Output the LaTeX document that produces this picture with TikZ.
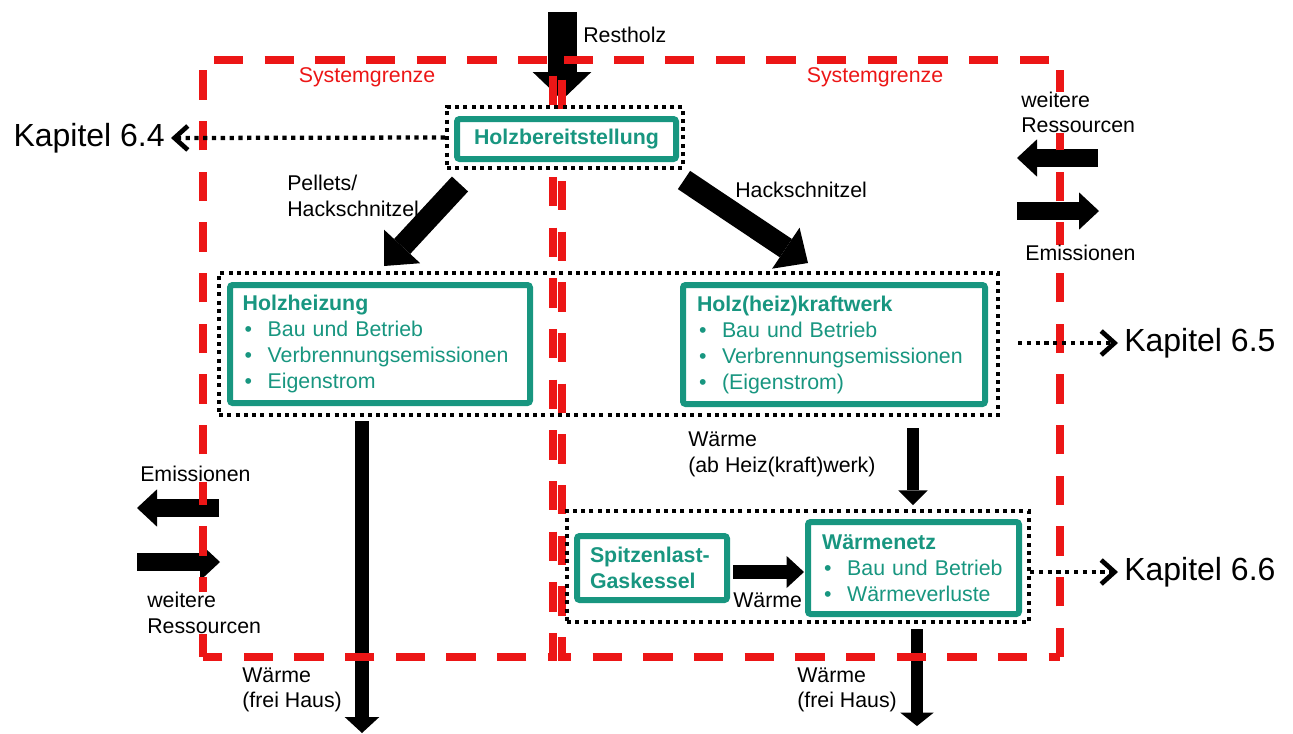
\documentclass[tikz,border=0pt]{standalone}
\usepackage{fontspec}
\setmainfont{Liberation Sans}
\usetikzlibrary{arrows.meta}
\definecolor{tealc}{RGB}{24,150,128}
\definecolor{sysred}{RGB}{236,22,22}
\newcommand{\blt}{\makebox[18.75pt][l]{\hspace{1.5pt}\textbullet}}
\begin{document}
\begin{tikzpicture}[x=0.75pt,y=-0.75pt,
  lbl/.style={inner sep=0pt, anchor=west, align=left, fill=white, font=\fontsize{16}{19.2}\selectfont},
  kap/.style={inner sep=0pt, font=\fontsize{24}{28}\selectfont},
  sysg/.style={inner sep=0pt, text=sysred, font=\fontsize{16}{19}\selectfont},
  tbox/.style={draw=tealc, line width=4.5pt, fill=white, rounded corners=2pt, text=tealc, font=\fontsize{16}{19.5}\selectfont, inner sep=0pt},
  dbox/.style={draw=black, line width=3pt, dash pattern=on 3pt off 3.2pt, inner sep=0pt},
  boundary/.style={draw=sysred, line width=5.5pt, dash pattern=on 22pt off 16pt},
  darr/.style={draw=black, line width=3.2pt, dash pattern=on 3.2pt off 3.4pt, -{Straight Barb[length=10pt,width=18pt,line width=3.5pt]}},
  fat/.style n args={3}{draw=black, line width=#1, -{Triangle[width=#2,length=#3,line width=0pt]}}
]
\useasboundingbox (0,0) rectangle (1293,733);

% free ends of connectors
\coordinate (rs0) at (562,12);   \coordinate (rs1) at (562,100);
\coordinate (pa0) at (460,184);  \coordinate (pa1) at (384,266);
\coordinate (ha0) at (684,180);  \coordinate (ha1) at (808,263);
\coordinate (rr0) at (1098,158); \coordinate (rr1) at (1017,158);
\coordinate (re0) at (1017,211); \coordinate (re1) at (1099,211);
\coordinate (le0) at (219,508);  \coordinate (le1) at (137,508);
\coordinate (lr0) at (137,562);  \coordinate (lr1) at (220,562);
\coordinate (hd0) at (362,421);  \coordinate (hd1) at (362,733);
\coordinate (wa0) at (913,428);  \coordinate (wa1) at (913,505);
\coordinate (sw0) at (733,572);  \coordinate (sw1) at (804,572);
\coordinate (wd0) at (917,629);  \coordinate (wd1) at (917,726);
\coordinate (k4) at (171,138);
\coordinate (k5a) at (1018,343); \coordinate (k5b) at (1118,343);
\coordinate (k6a) at (1030,572); \coordinate (k6b) at (1118,572);

% arrows crossing the system boundary
\draw[fat={21.75pt}{44pt}{21pt}] (rs0) -- (rs1);
\draw[fat={13.5pt}{28pt}{15pt}] (rr0) -- (rr1);
\draw[fat={13.5pt}{28pt}{15pt}] (re0) -- (re1);
\draw[fat={13.5pt}{28pt}{15pt}] (le0) -- (le1);
\draw[fat={13.5pt}{28pt}{15pt}] (lr0) -- (lr1);
\draw[fat={11pt}{26pt}{12pt}] (hd0) -- (hd1);
\draw[fat={8.5pt}{25pt}{10pt}] (wd0) -- (wd1);

% system boundaries
\draw[boundary] (203,657) -- (203,60) -- (553,60) -- (553,657) -- cycle;
\draw[boundary] (1060,657) -- (1060,60) -- (562,60) -- (562,657) -- cycle;
\node[sysg] (sg1) at (367,77) {Systemgrenze};
\node[sysg] (sg2) at (875,77) {Systemgrenze};

% dotted groups
\node[dbox, minimum width=177pt, minimum height=45.75pt] (d1) at (565,137.5) {};
\node[dbox, minimum width=584.25pt, minimum height=106.5pt] (d2) at (608.5,344) {};
\node[dbox, minimum width=346.5pt, minimum height=83.25pt] (d3) at (798,566.5) {};

% labels
\node[lbl] (lrest) at (583,35) {Restholz};
\node[lbl] (lpel) at (287,196) {Pellets/\\Hackschnitzel};
\node[lbl] (lhack) at (735,190) {Hackschnitzel};
\node[lbl] (lwr1) at (1021,112.5) {weitere\\Ressourcen};
\node[lbl] (lem1) at (1025,253) {Emissionen};
\node[lbl] (lem2) at (140,474) {Emissionen};
\node[lbl] (lwr2) at (147,613) {weitere\\Ressourcen};
\node[lbl] (lfh1) at (242,690) {Wärme\\(frei Haus)};
\node[lbl] (lab) at (688,454.5) {Wärme\\(ab Heiz(kraft)werk)};
\node[lbl] (lw) at (733,600) {Wärme};
\node[lbl] (lfh2) at (797,690) {Wärme\\(frei Haus)};

% teal boxes
\node[tbox, minimum width=164.25pt, minimum height=30pt] (hb) at (566.5,139) {\textbf{Holzbereitstellung}};
\node[tbox, minimum width=225pt, minimum height=88.5pt, text width=206pt, align=left] (hh) at (380,344)
  {\textbf{Holzheizung}\\\blt Bau und Betrieb\\\blt Verbrennungsemissionen\\\blt Eigenstrom};
\node[tbox, minimum width=226.5pt, minimum height=89.25pt, text width=205.5pt, align=left] (hk) at (834,344.5)
  {\textbf{Holz(heiz)kraftwerk}\\\blt Bau und Betrieb\\\blt Verbrennungsemissionen\\\blt (Eigenstrom)};
\node[tbox, minimum width=112.5pt, minimum height=48pt, text width=93pt, align=left] (sp) at (652,568)
  {\textbf{Spitzenlast-}\\\textbf{Gaskessel}};
\node[tbox, minimum width=158.25pt, minimum height=69pt, text width=137pt, align=left] (wn) at (913.5,568)
  {\textbf{Wärmenetz}\\\blt Bau und Betrieb\\\blt Wärmeverluste};

% internal arrows
\draw[fat={16.5pt}{37pt}{20pt}] (pa0) -- (pa1);
\draw[fat={16.5pt}{37pt}{20pt}] (ha0) -- (ha1);
\draw[fat={9pt}{22pt}{11pt}] (wa0) -- (wa1);
\draw[fat={11pt}{24pt}{13pt}] (sw0) -- (sw1);

% references to chapters
\draw[darr] (d1.west) -- (k4);
\draw[darr] (k5a) -- (k5b);
\draw[darr] (k6a) -- (k6b);
\node[kap, anchor=east] (kp4) at (165,138) {Kapitel 6.4};
\node[kap, anchor=west] (kp5) at (1124,343) {Kapitel 6.5};
\node[kap, anchor=west] (kp6) at (1124,572) {Kapitel 6.6};
\end{tikzpicture}
\end{document}
